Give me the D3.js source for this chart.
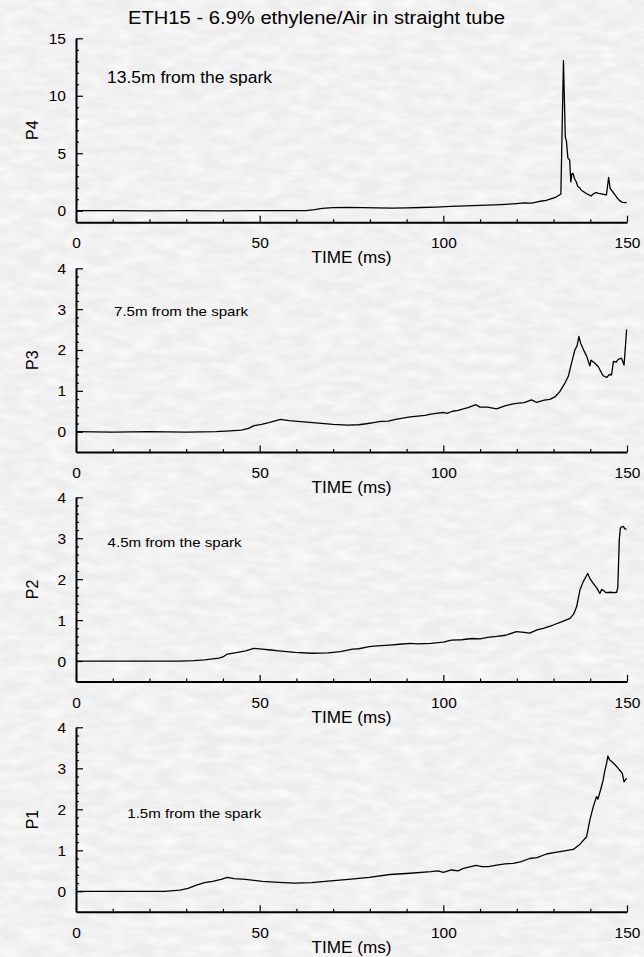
<!DOCTYPE html>
<html>
<head>
<meta charset="utf-8">
<script src="https://cdn.jsdelivr.net/npm/d3@7"></script>
<style>
  html, body { margin: 0; padding: 0; background: #f0f0f0; }
  svg { display: block; font-family: "Liberation Sans", Arial, sans-serif; }
</style>
</head>
<body>
<script>
// pressure traces (time in ms, pressure)
const timeP4 = [0, 10, 20, 30, 40, 50, 60, 63, 65, 67, 70, 74, 78, 82, 86, 90, 94, 98, 102, 106, 110, 114, 117, 120, 122, 124, 126, 128, 130.5, 132, 132.7, 133.2, 133.5, 133.9, 134.4, 134.7, 135.0, 135.3, 135.7, 136.2, 136.6, 137.1, 137.5, 138.2, 138.9, 139.5, 140.2, 140.8, 141.5, 142.3, 143.3, 144.4, 145.0, 145.4, 146.1, 146.8, 147.4, 148.1, 148.8, 149.9];
const valuesP4 = [0, 0, -0.01, 0, -0.01, 0, 0, 0.02, 0.1, 0.2, 0.26, 0.28, 0.27, 0.24, 0.22, 0.24, 0.28, 0.32, 0.37, 0.42, 0.46, 0.5, 0.55, 0.62, 0.68, 0.66, 0.8, 0.9, 1.15, 1.45, 13.05, 6.4, 6.1, 4.6, 4.4, 2.5, 3.2, 3.25, 2.8, 2.5, 2.1, 2.0, 1.8, 1.65, 1.5, 1.4, 1.28, 1.45, 1.57, 1.5, 1.45, 1.37, 2.9, 1.95, 1.65, 1.35, 1.08, 0.85, 0.73, 0.7];

const timeP3 = [0, 10, 20, 30, 38, 42, 45, 47, 48.5, 50.5, 52.5, 55.7, 58, 62, 66, 70, 74, 77, 79.5, 81, 83, 85, 87, 89, 91, 93, 95, 96.6, 98, 100, 101, 102.5, 104, 106.7, 108.9, 110, 112, 114.5, 116.8, 119, 120.5, 122, 124, 125.3, 127.5, 129, 130.5, 131.7, 133.1, 134, 134.9, 135.8, 136.4, 136.9, 137.4, 138.2, 139.0, 139.9, 140.2, 141.2, 142.2, 143.0, 143.5, 144.5, 145.2, 145.8, 146.3, 147.0, 147.6, 148.5, 149.2, 149.9];
const valuesP3 = [0, -0.01, 0, -0.01, 0, 0.02, 0.04, 0.08, 0.15, 0.18, 0.22, 0.3, 0.27, 0.24, 0.21, 0.18, 0.16, 0.17, 0.2, 0.22, 0.25, 0.26, 0.3, 0.33, 0.36, 0.38, 0.4, 0.43, 0.45, 0.47, 0.45, 0.5, 0.52, 0.59, 0.66, 0.6, 0.6, 0.56, 0.63, 0.68, 0.7, 0.71, 0.78, 0.72, 0.77, 0.79, 0.86, 0.98, 1.19, 1.35, 1.68, 2.0, 2.1, 2.33, 2.16, 2.0, 1.85, 1.61, 1.75, 1.68, 1.59, 1.45, 1.37, 1.33, 1.4, 1.39, 1.72, 1.7, 1.77, 1.8, 1.63, 2.5];

const timeP2 = [0, 10, 20, 28, 32, 35, 38.9, 40, 41.2, 44, 46.2, 48.4, 50.7, 53, 55.2, 59.6, 64.1, 68.6, 72, 75.3, 77, 79.8, 82, 85.4, 88, 91, 93, 96.6, 100, 102.2, 105, 107.8, 110, 112, 114.5, 117, 119.9, 122, 123.5, 125.5, 127.2, 129.9, 132, 134.5, 135.5, 136.3, 137.2, 138.1, 139.3, 140.0, 140.8, 141.8, 142.6, 143.1, 143.8, 144.2, 145.5, 146.5, 147.2, 147.5, 147.9, 148.2, 148.6, 149.0, 149.4, 149.9];
const valuesP2 = [0, 0, 0, 0, 0.01, 0.03, 0.07, 0.1, 0.17, 0.21, 0.25, 0.31, 0.29, 0.27, 0.25, 0.21, 0.19, 0.2, 0.23, 0.29, 0.3, 0.35, 0.37, 0.39, 0.41, 0.43, 0.42, 0.43, 0.46, 0.51, 0.52, 0.55, 0.54, 0.58, 0.6, 0.63, 0.72, 0.7, 0.68, 0.76, 0.8, 0.88, 0.95, 1.04, 1.15, 1.33, 1.74, 1.94, 2.14, 2.0, 1.9, 1.78, 1.65, 1.75, 1.71, 1.67, 1.68, 1.67, 1.68, 1.8, 2.96, 3.25, 3.28, 3.29, 3.23, 3.22];

const timeP1 = [0, 10, 20, 24, 28.3, 30.5, 32.8, 35, 37.2, 39.5, 41.2, 43, 46.2, 50.7, 55.2, 59.6, 64.1, 68.6, 74.2, 79.8, 85.4, 91, 96.6, 98.5, 100, 102.2, 104, 105.5, 108.9, 110.5, 112.3, 114.5, 116.8, 119, 121, 123.5, 125.5, 128.1, 130.5, 132.6, 135.4, 137.2, 139, 139.9, 140.8, 141.7, 142.1, 142.4, 142.8, 143.5, 144.0, 144.4, 144.8, 145.3, 145.9, 146.6, 147.6, 148.7, 149.2, 149.9];
const valuesP1 = [0, 0, 0, 0, 0.03, 0.07, 0.15, 0.21, 0.24, 0.29, 0.34, 0.31, 0.29, 0.24, 0.22, 0.2, 0.21, 0.25, 0.29, 0.34, 0.41, 0.44, 0.48, 0.5, 0.46, 0.52, 0.5, 0.56, 0.63, 0.6, 0.6, 0.64, 0.67, 0.68, 0.72, 0.8, 0.82, 0.91, 0.95, 0.98, 1.02, 1.15, 1.33, 1.74, 2.06, 2.31, 2.25, 2.35, 2.47, 2.71, 2.96, 3.1, 3.3, 3.2, 3.16, 3.1, 3.0, 2.88, 2.67, 2.76];

const xTicks = [0, 50, 100, 150];
const yTicksP4 = [0, 5, 10, 15];
const yTicksLow = [0, 1, 2, 3, 4];
const panelNames = ['P4', 'P3', 'P2', 'P1'];
const distanceLabels = ['13.5m from the spark', '7.5m from the spark', '4.5m from the spark', '1.5m from the spark'];
const titleText = 'ETH15 - 6.9% ethylene/Air in straight tube';
const xLabel = 'TIME (ms)';

const width = 644;
const height = 957;

const lowMinor = d3.range(0.2, 4, 0.2).filter(d => Math.abs(d - Math.round(d)) > 0.01);

const panels = [
  { name: panelNames[0], t: timeP4, v: valuesP4, domain: [-1, 15], top: 38.3, bottom: 222.2,
    ticks: yTicksP4, minor: d3.range(1, 15).filter(d => d % 5 !== 0),
    note: distanceLabels[0], noteX: 107, noteY: 82.5, noteSize: 16, noteLen: 165 },
  { name: panelNames[1], t: timeP3, v: valuesP3, domain: [-0.5, 4], top: 268.3, bottom: 452.1,
    ticks: yTicksLow, minor: lowMinor,
    note: distanceLabels[1], noteX: 114, noteY: 316, noteSize: 13, noteLen: 134 },
  { name: panelNames[2], t: timeP2, v: valuesP2, domain: [-0.5, 4], top: 497.3, bottom: 681.5,
    ticks: yTicksLow, minor: lowMinor,
    note: distanceLabels[2], noteX: 107.6, noteY: 546.5, noteSize: 13, noteLen: 134 },
  { name: panelNames[3], t: timeP1, v: valuesP1, domain: [-0.5, 4], top: 727.3, bottom: 911.8,
    ticks: yTicksLow, minor: lowMinor,
    note: distanceLabels[3], noteX: 127.3, noteY: 817.5, noteSize: 13, noteLen: 134 }
];

const svg = d3.select('body')
  .append('svg')
  .attr('width', width)
  .attr('height', height);

// faint mottled grey paper background
const filter = svg.append('defs').append('filter')
  .attr('id', 'paper')
  .attr('x', 0).attr('y', 0).attr('width', '100%').attr('height', '100%');
filter.append('feTurbulence')
  .attr('type', 'fractalNoise')
  .attr('baseFrequency', '0.045 0.11')
  .attr('numOctaves', 3)
  .attr('seed', 7);
filter.append('feColorMatrix')
  .attr('type', 'matrix')
  .attr('values', '0 0 0 0 1  0 0 0 0 1  0 0 0 0 1  1.3 0 0 0 -0.4');

svg.append('rect')
  .attr('width', width).attr('height', height)
  .attr('fill', '#ededed');
svg.append('rect')
  .attr('width', width).attr('height', height)
  .attr('filter', 'url(#paper)');

const x = d3.scaleLinear().domain([0, 150]).range([76, 627]);

svg.append('text')
  .attr('x', 128)
  .attr('y', 24)
  .attr('font-size', 18)
  .attr('textLength', 377)
  .attr('lengthAdjust', 'spacingAndGlyphs')
  .text(titleText);

panels.forEach(p => {
  const y = d3.scaleLinear().domain(p.domain).range([p.bottom, p.top]);
  const g = svg.append('g');

  // minor x ticks
  g.append('g')
    .attr('transform', `translate(0,${p.bottom})`)
    .call(d3.axisBottom(x).tickValues(d3.range(10, 150, 10).filter(d => d % 50 !== 0))
      .tickSize(-3).tickFormat(''))
    .call(a => a.select('.domain').remove());

  // major x axis
  g.append('g')
    .attr('transform', `translate(0,${p.bottom})`)
    .call(d3.axisBottom(x).tickValues(xTicks).tickSize(-6.5).tickSizeOuter(0).tickPadding(15));

  // minor y ticks
  g.append('g')
    .attr('transform', `translate(${x(0)},0)`)
    .call(d3.axisLeft(y).tickValues(p.minor).tickSize(-3).tickFormat(''))
    .call(a => a.select('.domain').remove());

  // major y axis
  g.append('g')
    .attr('transform', `translate(${x(0)},0)`)
    .call(d3.axisLeft(y).tickValues(p.ticks).tickFormat(d3.format('d'))
      .tickSize(-7).tickSizeOuter(0).tickPadding(10));

  g.selectAll('.domain').attr('stroke', '#000').attr('stroke-width', 2);
  g.selectAll('.tick line').attr('stroke', '#000').attr('stroke-width', 1.2);
  g.selectAll('.tick text')
    .attr('font-family', '"Liberation Sans", Arial, sans-serif')
    .attr('font-size', 15.5)
    .attr('fill', '#000');

  const line = d3.line()
    .x((d, i) => x(p.t[i]))
    .y(d => y(d));

  g.append('path')
    .datum(p.v)
    .attr('fill', 'none')
    .attr('stroke', '#000')
    .attr('stroke-width', 1.3)
    .attr('stroke-linejoin', 'round')
    .attr('d', line);

  g.append('text')
    .attr('x', 311.5)
    .attr('y', p.bottom + 41)
    .attr('font-size', 16)
    .attr('textLength', 80)
    .attr('lengthAdjust', 'spacingAndGlyphs')
    .text(xLabel);

  g.append('text')
    .attr('transform', `translate(37.5,${(p.top + p.bottom) / 2}) rotate(-90)`)
    .attr('text-anchor', 'middle')
    .attr('font-size', 16)
    .text(p.name);

  g.append('text')
    .attr('x', p.noteX)
    .attr('y', p.noteY)
    .attr('font-size', p.noteSize)
    .attr('textLength', p.noteLen)
    .attr('lengthAdjust', 'spacingAndGlyphs')
    .text(p.note);
});
</script>
</body>
</html>
